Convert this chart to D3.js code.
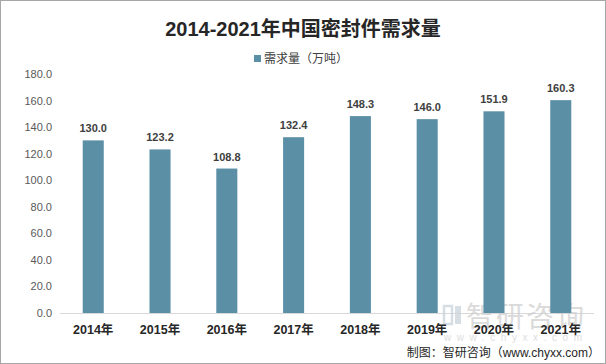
<!DOCTYPE html>
<html>
<head>
<meta charset="utf-8">
<script src="https://cdn.jsdelivr.net/npm/d3@7"></script>
<style>
  body { margin: 0; background: #fff; }
  svg { display: block; font-family: "Liberation Sans", "Noto Sans CJK SC", sans-serif; }
</style>
</head>
<body>
<svg width="606" height="364"></svg>
<script>
// **** data ****
var years = ['2014年', '2015年', '2016年', '2017年', '2018年', '2019年', '2020年', '2021年'];
var demand = [130.0, 123.2, 108.8, 132.4, 148.3, 146.0, 151.9, 160.3];
var yTicks = [0, 20, 40, 60, 80, 100, 120, 140, 160, 180];

var barColor = '#5b8fa6';

var svg = d3.select('svg');

// border
svg.append('rect')
    .attr('x', 0.5).attr('y', 0.5)
    .attr('width', 605).attr('height', 363)
    .attr('fill', 'none')
    .attr('stroke', '#a6a6a6');

// **** scales ****
var xScale = d3.scaleBand()
    .domain(years)
    .range([60, 594])
    .paddingInner(0.685)
    .paddingOuter(0.34);

var yScale = d3.scaleLinear()
    .domain([0, 180]).range([313, 74]);

// y axis labels (no line)
var yAxis = svg.append('g')
    .attr('transform', 'translate(52,0)')
    .call(d3.axisLeft(yScale).tickValues(yTicks).tickFormat(d3.format('.1f')).tickSize(0).tickPadding(0));
yAxis.select('.domain').remove();
yAxis.selectAll('text')
    .style('font-size', '11px')
    .style('font-family', '"Liberation Sans", sans-serif')
    .attr('fill', '#595959');

// baseline
svg.append('line')
    .attr('x1', 60).attr('x2', 594)
    .attr('y1', yScale(0) + 0.5).attr('y2', yScale(0) + 0.5)
    .attr('stroke', '#d9d9d9');

// watermark (logo + text), drawn under the bars
var wm = svg.append('g').attr('opacity', 0.75);
wm.append('rect').attr('x', 444).attr('y', 306).attr('width', 8).attr('height', 18)
    .attr('fill', 'none').attr('stroke', '#c9d3dc').attr('stroke-width', 2.5);
wm.append('rect').attr('x', 455).attr('y', 306).attr('width', 6).attr('height', 18)
    .attr('fill', '#c9d3dc');
wm.append('text')
    .attr('x', 466).attr('y', 327)
    .attr('textLength', 118)
    .style('font-size', '28px')
    .style('font-family', '"Noto Sans CJK SC", sans-serif')
    .attr('fill', '#cfcfcf')
    .text('智研咨询');
wm.append('text')
    .attr('x', 444).attr('y', 341)
    .attr('textLength', 138)
    .style('font-size', '10px')
    .attr('fill', '#d3d3d3')
    .text('www.chyxx.com');

// bars
svg.append('g').selectAll('rect')
    .data(demand)
    .enter()
    .append('rect')
    .attr('x', function(d, i) { return xScale(years[i]); })
    .attr('y', function(d) { return yScale(d); })
    .attr('width', xScale.bandwidth())
    .attr('height', function(d) { return yScale(0) - yScale(d); })
    .attr('fill', barColor);

// value labels
svg.append('g').selectAll('text')
    .data(demand)
    .enter()
    .append('text')
    .attr('x', function(d, i) { return xScale(years[i]) + xScale.bandwidth() / 2; })
    .attr('y', function(d) { return yScale(d) - 8; })
    .attr('text-anchor', 'middle')
    .style('font-size', '11px')
    .style('font-weight', 'bold')
    .attr('fill', '#404040')
    .text(function(d) { return d.toFixed(1); });

// x axis labels
svg.append('g').selectAll('text')
    .data(years)
    .enter()
    .append('text')
    .attr('x', function(d) { return xScale(d) + xScale.bandwidth() / 2; })
    .attr('y', 334)
    .attr('text-anchor', 'middle')
    .style('font-size', '12.5px')
    .style('font-weight', 'bold')
    .attr('fill', '#262626')
    .text(function(d) { return d; });

// title
svg.append('text')
    .attr('x', 303).attr('y', 36)
    .attr('text-anchor', 'middle')
    .style('font-size', '20px')
    .style('font-weight', 'bold')
    .attr('fill', '#262626')
    .text('2014-2021年中国密封件需求量');

// legend
svg.append('rect')
    .attr('x', 254).attr('y', 55)
    .attr('width', 7).attr('height', 7)
    .attr('fill', barColor);
svg.append('text')
    .attr('x', 264).attr('y', 63)
    .style('font-size', '12px')
    .attr('fill', '#404040')
    .text('需求量（万吨）');

// source
svg.append('text')
    .attr('x', 600).attr('y', 357)
    .attr('text-anchor', 'end')
    .style('font-size', '12px')
    .attr('fill', '#262626')
    .text('制图：智研咨询（www.chyxx.com）');
</script>
</body>
</html>
